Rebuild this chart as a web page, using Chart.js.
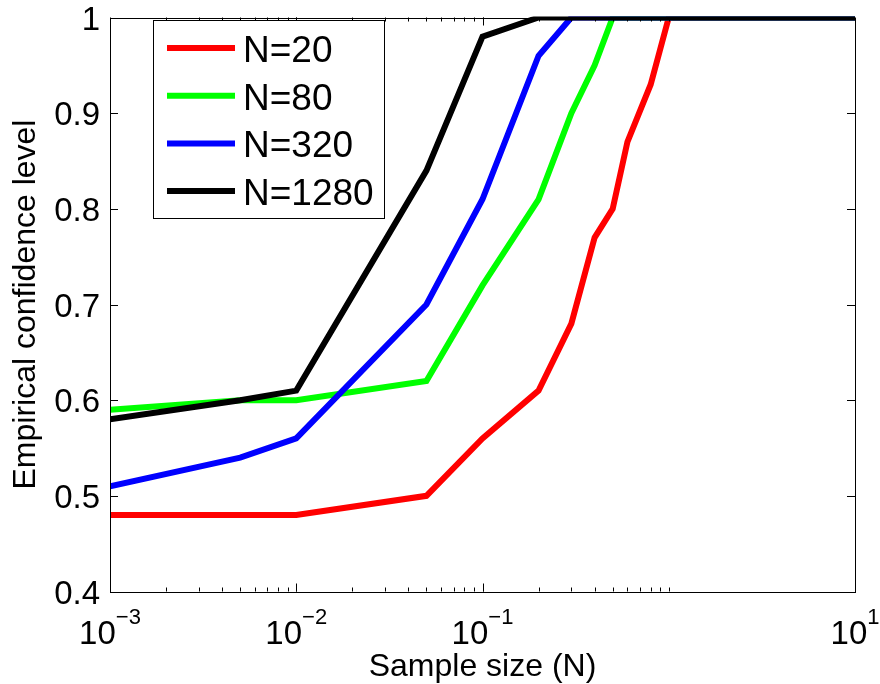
<!DOCTYPE html>
<html>
<head>
<meta charset="utf-8">
<script src="https://cdn.jsdelivr.net/npm/chart.js@4.4.1/dist/chart.umd.min.js"></script>
<style>
    html, body { margin: 0; padding: 0; background: #fff; }
    #wrap { width: 880px; height: 684px; }
</style>
</head>
<body>
<div id="wrap"><canvas id="confChart" width="880" height="684"></canvas></div>
<script>
// sample sizes shared by every curve
const sampleSizes = [0.001, 0.005, 0.01, 0.05, 0.1, 0.2, 0.3, 0.4, 0.5, 0.6, 0.8, 1, 10];

// empirical confidence level per population size
const confN20   = [0.48, 0.48, 0.48, 0.50, 0.56, 0.61, 0.68, 0.77, 0.80, 0.87, 0.93, 1, 1];
const confN80   = [0.59, 0.60, 0.60, 0.62, 0.72, 0.81, 0.90, 0.95, 1, 1, 1, 1, 1];
const confN320  = [0.51, 0.54, 0.56, 0.70, 0.81, 0.96, 1, 1, 1, 1, 1, 1, 1];
const confN1280 = [0.58, 0.60, 0.61, 0.84, 0.98, 1, 1, 1, 1, 1, 1, 1, 1];

const seriesLabels = ['N=20', 'N=80', 'N=320', 'N=1280'];
const seriesColors = ['#ff0000', '#00ff00', '#0000ff', '#000000'];

// axis ticks
const yTicks = [0.4, 0.5, 0.6, 0.7, 0.8, 0.9, 1];
const yTickLabels = ['0.4', '0.5', '0.6', '0.7', '0.8', '0.9', '1'];
const xMajorTicks = [0.001, 0.01, 0.1, 10];
const xTickExponents = ['\u22123', '\u22122', '\u22121', '1'];
const xDecades = [0.001, 0.01, 0.1];

const FONT = '"Liberation Sans", Arial, Helvetica, sans-serif';

/* Helpers */

function points(values) {
    return sampleSizes.map((s, i) => ({ x: s, y: values[i] }));
}

function minorTicks() {
    const out = [];
    xDecades.forEach(d => {
        for (let k = 2; k <= 10; k++) out.push(d * k);
    });
    return out;
}

function line(label, values, color, order) {
    return {
        label,
        data: points(values),
        borderColor: color,
        backgroundColor: color,
        borderWidth: 6,
        pointRadius: 0,
        tension: 0,
        borderJoinStyle: 'miter',
        borderCapStyle: 'butt',
        clip: { left: 0, top: 1, right: 0, bottom: 0 },
        order
    };
}

/* Plugins: boxed axes with inward ticks, labels and an inset legend */

const boxedAxes = {
    id: 'boxedAxes',
    afterDatasetsDraw(chart) {
        const { ctx, chartArea: a, scales: { x, y } } = chart;
        ctx.save();
        ctx.strokeStyle = '#000';
        ctx.lineWidth = 1;

        ctx.beginPath();
        yTicks.forEach(v => {
            const py = Math.round(y.getPixelForValue(v)) + 0.5;
            ctx.moveTo(a.left, py); ctx.lineTo(a.left + 8, py);
            ctx.moveTo(a.right, py); ctx.lineTo(a.right - 8, py);
        });
        xMajorTicks.forEach(v => {
            const px = Math.round(x.getPixelForValue(v)) + 0.5;
            ctx.moveTo(px, a.bottom); ctx.lineTo(px, a.bottom - 8);
            ctx.moveTo(px, a.top); ctx.lineTo(px, a.top + 8);
        });
        minorTicks().forEach(v => {
            const px = Math.round(x.getPixelForValue(v)) + 0.5;
            ctx.moveTo(px, a.bottom); ctx.lineTo(px, a.bottom - 4);
            ctx.moveTo(px, a.top); ctx.lineTo(px, a.top + 4);
        });
        ctx.stroke();

        ctx.strokeRect(Math.round(a.left) + 0.5, Math.round(a.top) + 0.5,
            Math.round(a.right - a.left), Math.round(a.bottom - a.top));

        ctx.fillStyle = '#000';

        // y tick labels
        ctx.font = '33px ' + FONT;
        ctx.textAlign = 'right';
        ctx.textBaseline = 'alphabetic';
        yTicks.forEach((v, i) => {
            ctx.fillText(yTickLabels[i], a.left - 10, y.getPixelForValue(v) + 12);
        });

        // x tick labels as powers of ten
        xMajorTicks.forEach((v, i) => {
            const px = x.getPixelForValue(v);
            ctx.font = '33px ' + FONT;
            const baseW = ctx.measureText('10').width;
            ctx.font = '22px ' + FONT;
            const expW = ctx.measureText(xTickExponents[i]).width;
            const start = px - (baseW + expW) / 2;
            ctx.textAlign = 'left';
            ctx.font = '33px ' + FONT;
            ctx.fillText('10', start, a.bottom + 52);
            ctx.font = '22px ' + FONT;
            ctx.fillText(xTickExponents[i], start + baseW, a.bottom + 32);
        });

        // axis titles
        ctx.font = '32px ' + FONT;
        ctx.textAlign = 'center';
        ctx.fillText('Sample size (N)', (a.left + a.right) / 2, 676);

        ctx.save();
        ctx.translate(35, (a.top + a.bottom) / 2);
        ctx.rotate(-Math.PI / 2);
        ctx.fillText('Empirical confidence level', 0, 0);
        ctx.restore();

        ctx.restore();
    },
    afterDraw(chart) {
        const { ctx } = chart;
        const box = { left: 153, top: 20, width: 231, height: 198 };
        ctx.save();
        ctx.fillStyle = '#fff';
        ctx.fillRect(box.left, box.top, box.width, box.height);
        ctx.strokeStyle = '#000';
        ctx.lineWidth = 1;
        ctx.strokeRect(box.left + 0.5, box.top + 0.5, box.width, box.height);

        ctx.font = '37px ' + FONT;
        ctx.textAlign = 'left';
        ctx.textBaseline = 'alphabetic';
        chart.data.datasets.forEach((ds, i) => {
            const cy = 48 + i * 47.7;
            ctx.strokeStyle = ds.borderColor;
            ctx.lineWidth = 6;
            ctx.beginPath();
            ctx.moveTo(167, cy);
            ctx.lineTo(235, cy);
            ctx.stroke();
            ctx.fillStyle = '#000';
            ctx.fillText(ds.label, 243, cy + 14);
        });
        ctx.restore();
    }
};

/* Chart */

function renderConfidenceChart() {
    const ctx = document.getElementById('confChart');

    return new Chart(ctx, {
        type: 'line',
        data: {
            datasets: [
                line(seriesLabels[0], confN20, seriesColors[0], 3),
                line(seriesLabels[1], confN80, seriesColors[1], 2),
                line(seriesLabels[2], confN320, seriesColors[2], 1),
                line(seriesLabels[3], confN1280, seriesColors[3], 0)
            ]
        },
        options: {
            responsive: false,
            animation: false,
            layout: { padding: { left: 110, right: 25, top: 17.5, bottom: 92.5 } },
            plugins: {
                legend: { display: false },
                tooltip: { enabled: false }
            },
            scales: {
                x: { type: 'logarithmic', min: 0.001, max: 10, display: false },
                y: { type: 'linear', min: 0.4, max: 1, display: false }
            }
        },
        plugins: [boxedAxes]
    });
}

renderConfidenceChart();
</script>
</body>
</html>
